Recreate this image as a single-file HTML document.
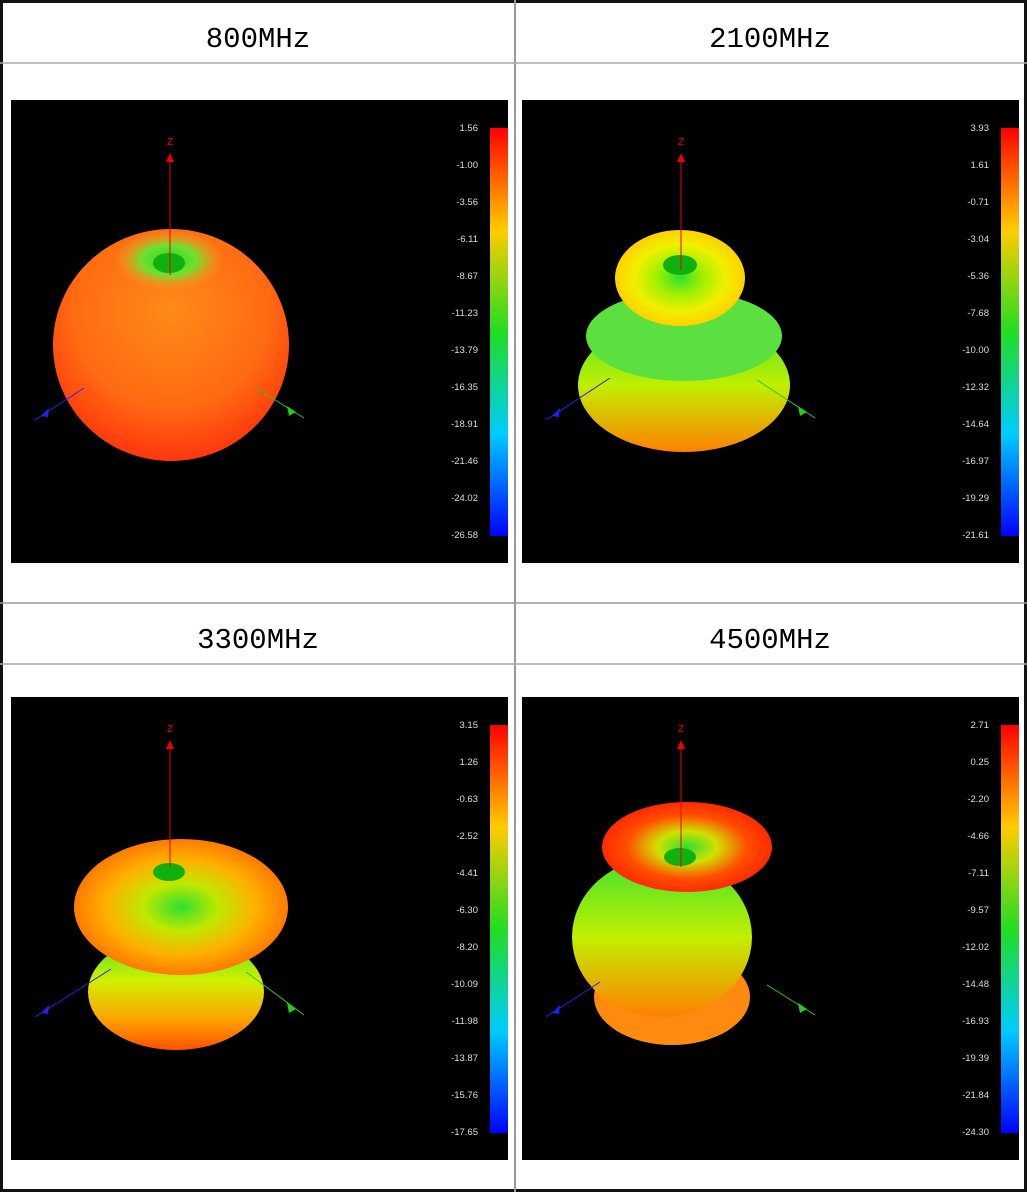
<!DOCTYPE html>
<html><head><meta charset="utf-8"><style>
html,body{margin:0;padding:0;background:#fff}
svg{display:block}
text{font-family:"Liberation Sans",sans-serif}
.h{font-family:"Liberation Mono",monospace;font-size:29px}
.t{font-size:9.5px;fill:#ddd;text-anchor:end}
</style></head><body>
<svg width="1027" height="1192" viewBox="0 0 1027 1192">
<defs>
<linearGradient id="cb" x1="0" y1="0" x2="0" y2="1">
<stop offset="0" stop-color="#ff0000"/><stop offset="0.25" stop-color="#ffcc00"/>
<stop offset="0.5" stop-color="#22dd22"/><stop offset="0.75" stop-color="#00ccff"/>
<stop offset="1" stop-color="#0000ff"/></linearGradient>
<radialGradient id="sph" cx="0.5" cy="0.35" r="0.7"><stop offset="0" stop-color="#ff8a18"/><stop offset="0.6" stop-color="#ff6a12"/><stop offset="1" stop-color="#ff2a0c"/></radialGradient>
<radialGradient id="don" cx="0.5" cy="0.5" r="0.5"><stop offset="0" stop-color="#20dd20"/><stop offset="0.5" stop-color="#70e030"/><stop offset="1" stop-color="#ff9a20" stop-opacity="0"/></radialGradient>
<radialGradient id="yel" cx="0.5" cy="0.5" r="0.5"><stop offset="0" stop-color="#30e030"/><stop offset="0.35" stop-color="#a0f000"/><stop offset="0.7" stop-color="#f0f000"/><stop offset="1" stop-color="#ffd000"/></radialGradient>
<radialGradient id="ora" cx="0.5" cy="0.5" r="0.5"><stop offset="0" stop-color="#30e030"/><stop offset="0.35" stop-color="#c0e800"/><stop offset="0.7" stop-color="#ffb000"/><stop offset="1" stop-color="#ff7a00"/></radialGradient>
<radialGradient id="red" cx="0.5" cy="0.5" r="0.5"><stop offset="0" stop-color="#30e030"/><stop offset="0.35" stop-color="#d0e000"/><stop offset="0.7" stop-color="#ff5000"/><stop offset="1" stop-color="#ff2a00"/></radialGradient>
<linearGradient id="low" x1="0" y1="0" x2="0" y2="1"><stop offset="0" stop-color="#40e030"/><stop offset="0.5" stop-color="#c0f000"/><stop offset="1" stop-color="#ff8000"/></linearGradient>
<linearGradient id="low2" x1="0" y1="0" x2="0" y2="1"><stop offset="0" stop-color="#40e030"/><stop offset="0.4" stop-color="#d0f000"/><stop offset="0.75" stop-color="#ffa000"/><stop offset="1" stop-color="#ff5000"/></linearGradient>
</defs>
<rect x="0" y="0" width="1027" height="1192" fill="#fff"/>
<rect x="1.5" y="1.5" width="1024" height="1189" fill="none" stroke="#111" stroke-width="3"/>
<line x1="515" y1="0" x2="515" y2="1192" stroke="#999" stroke-width="2"/>
<line x1="0" y1="63" x2="1027" y2="63" stroke="#aaa" stroke-width="1.5"/>
<line x1="0" y1="603" x2="1027" y2="603" stroke="#999" stroke-width="1.5"/>
<line x1="0" y1="664" x2="1027" y2="664" stroke="#aaa" stroke-width="1.5"/>
<text class="h" x="258" y="47" text-anchor="middle">800MHz</text>
<text class="h" x="770" y="47" text-anchor="middle">2100MHz</text>
<text class="h" x="258" y="648" text-anchor="middle">3300MHz</text>
<text class="h" x="770" y="648" text-anchor="middle">4500MHz</text>

<g transform="translate(11,100)">
<rect width="497" height="463" fill="#000"/>
<line x1="159" y1="55" x2="159" y2="175" stroke="#e00" stroke-width="1"/><polygon points="159,53 155,62 163,62" fill="#e00"/><text x="156" y="45" fill="#e00" font-size="10">Z</text>
<ellipse cx="160" cy="245" rx="118" ry="116" fill="url(#sph)"/>
<ellipse cx="158" cy="160" rx="55" ry="30" fill="url(#don)"/>
<ellipse cx="158" cy="163" rx="16" ry="10" fill="#10b010"/>
<line x1="159" y1="110" x2="159" y2="175" stroke="#e00"/>
<line x1="73" y1="288" x2="24" y2="320" stroke="#22e"/><polygon points="30,316 38,308 37,317" fill="#22e"/>
<line x1="245" y1="288" x2="293" y2="318" stroke="#2c2"/><polygon points="285,312 276,306 278,316" fill="#2c2"/>
<rect x="479" y="28" width="18" height="408" fill="url(#cb)"/>
<g class="t"><text x="467" y="31">1.56</text><text x="467" y="68">-1.00</text><text x="467" y="105">-3.56</text><text x="467" y="142">-6.11</text><text x="467" y="179">-8.67</text><text x="467" y="216">-11.23</text><text x="467" y="253">-13.79</text><text x="467" y="290">-16.35</text><text x="467" y="327">-18.91</text><text x="467" y="364">-21.46</text><text x="467" y="401">-24.02</text><text x="467" y="438">-26.58</text></g>
</g>

<g transform="translate(522,100)">
<rect width="497" height="463" fill="#000"/>
<line x1="159" y1="55" x2="159" y2="170" stroke="#e00"/><polygon points="159,53 155,62 163,62" fill="#e00"/><text x="156" y="45" fill="#e00" font-size="10">Z</text>
<ellipse cx="162" cy="285" rx="106" ry="67" fill="url(#low)"/>
<ellipse cx="162" cy="236" rx="98" ry="45" fill="#5ce040"/>
<ellipse cx="158" cy="178" rx="65" ry="48" fill="url(#yel)"/>
<ellipse cx="158" cy="165" rx="17" ry="10" fill="#10b010"/>
<line x1="159" y1="110" x2="159" y2="170" stroke="#e00"/>
<line x1="88" y1="278" x2="24" y2="320" stroke="#22e"/><polygon points="30,316 38,308 37,317" fill="#22e"/>
<line x1="235" y1="280" x2="293" y2="318" stroke="#2c2"/><polygon points="285,312 276,306 278,316" fill="#2c2"/>
<rect x="479" y="28" width="18" height="408" fill="url(#cb)"/>
<g class="t"><text x="467" y="31">3.93</text><text x="467" y="68">1.61</text><text x="467" y="105">-0.71</text><text x="467" y="142">-3.04</text><text x="467" y="179">-5.36</text><text x="467" y="216">-7.68</text><text x="467" y="253">-10.00</text><text x="467" y="290">-12.32</text><text x="467" y="327">-14.64</text><text x="467" y="364">-16.97</text><text x="467" y="401">-19.29</text><text x="467" y="438">-21.61</text></g>
</g>

<g transform="translate(11,697)">
<rect width="497" height="463" fill="#000"/>
<line x1="159" y1="45" x2="159" y2="175" stroke="#e00"/><polygon points="159,43 155,52 163,52" fill="#e00"/><text x="156" y="35" fill="#e00" font-size="10">Z</text>
<ellipse cx="165" cy="295" rx="88" ry="58" fill="url(#low2)"/>
<ellipse cx="170" cy="210" rx="107" ry="68" fill="url(#ora)"/>
<ellipse cx="158" cy="175" rx="16" ry="9" fill="#10b010"/>
<line x1="159" y1="100" x2="159" y2="170" stroke="#e00"/>
<line x1="100" y1="272" x2="24" y2="320" stroke="#22e"/><polygon points="30,316 38,308 37,317" fill="#22e"/>
<line x1="235" y1="275" x2="293" y2="318" stroke="#2c2"/><polygon points="285,312 276,306 278,316" fill="#2c2"/>
<rect x="479" y="28" width="18" height="408" fill="url(#cb)"/>
<g class="t"><text x="467" y="31">3.15</text><text x="467" y="68">1.26</text><text x="467" y="105">-0.63</text><text x="467" y="142">-2.52</text><text x="467" y="179">-4.41</text><text x="467" y="216">-6.30</text><text x="467" y="253">-8.20</text><text x="467" y="290">-10.09</text><text x="467" y="327">-11.98</text><text x="467" y="364">-13.87</text><text x="467" y="401">-15.76</text><text x="467" y="438">-17.65</text></g>
</g>

<g transform="translate(522,697)">
<rect width="497" height="463" fill="#000"/>
<line x1="159" y1="45" x2="159" y2="175" stroke="#e00"/><polygon points="159,43 155,52 163,52" fill="#e00"/><text x="156" y="35" fill="#e00" font-size="10">Z</text>
<ellipse cx="150" cy="300" rx="78" ry="48" fill="#ff8a10"/>
<ellipse cx="140" cy="240" rx="90" ry="80" fill="url(#low)"/>
<ellipse cx="165" cy="150" rx="85" ry="45" fill="url(#red)"/>
<ellipse cx="158" cy="160" rx="16" ry="9" fill="#10b010"/>
<line x1="159" y1="100" x2="159" y2="170" stroke="#e00"/>
<line x1="78" y1="285" x2="24" y2="320" stroke="#22e"/><polygon points="30,316 38,308 37,317" fill="#22e"/>
<line x1="245" y1="288" x2="293" y2="318" stroke="#2c2"/><polygon points="285,312 276,306 278,316" fill="#2c2"/>
<rect x="479" y="28" width="18" height="408" fill="url(#cb)"/>
<g class="t"><text x="467" y="31">2.71</text><text x="467" y="68">0.25</text><text x="467" y="105">-2.20</text><text x="467" y="142">-4.66</text><text x="467" y="179">-7.11</text><text x="467" y="216">-9.57</text><text x="467" y="253">-12.02</text><text x="467" y="290">-14.48</text><text x="467" y="327">-16.93</text><text x="467" y="364">-19.39</text><text x="467" y="401">-21.84</text><text x="467" y="438">-24.30</text></g>
</g>
</svg>
</body></html>
